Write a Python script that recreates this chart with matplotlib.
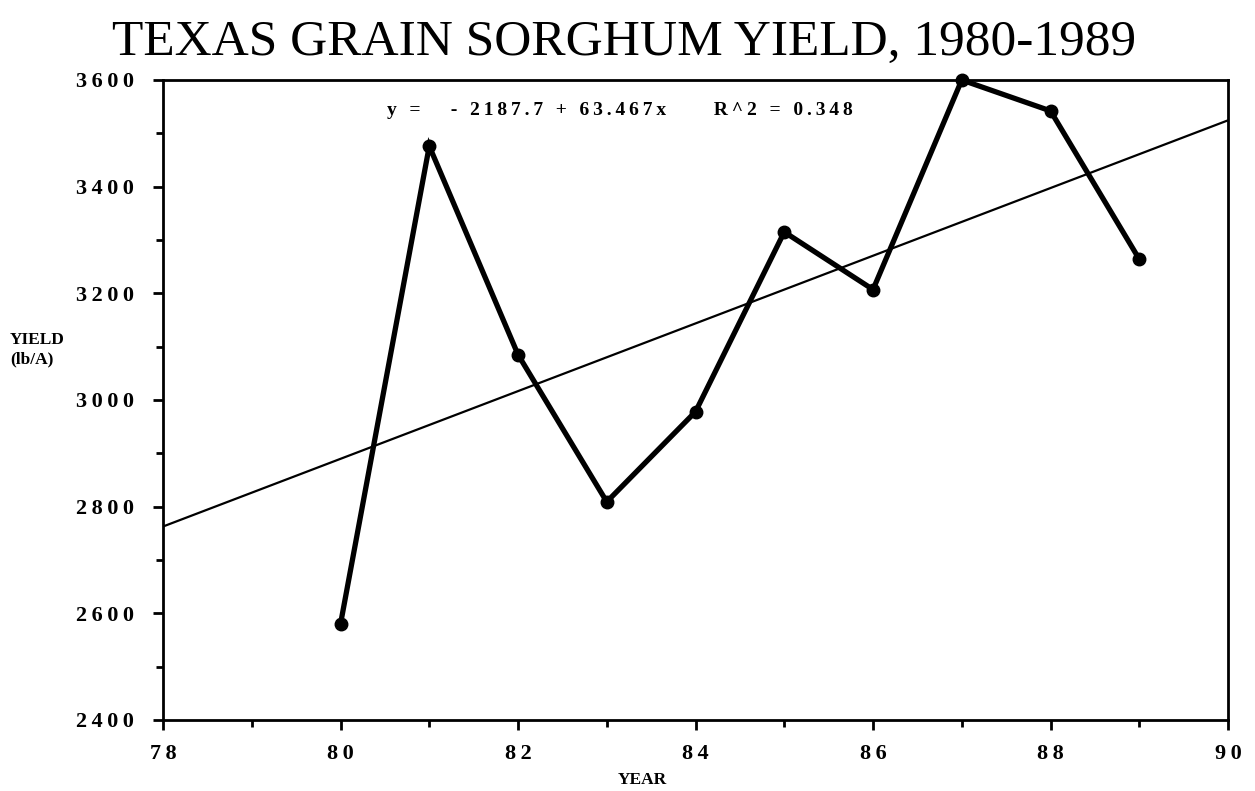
import matplotlib
matplotlib.use("Agg")
import matplotlib.pyplot as plt
from matplotlib.ticker import MultipleLocator, FuncFormatter

# yield data (year 80-89, lb/A)
years = [80, 81, 82, 83, 84, 85, 86, 87, 88, 89]
yields = [2580, 3476, 3085, 2809, 2978, 3315, 3207, 3600, 3542, 3264]

# fitted line as printed on the chart
intercept = -2187.7
slope = 63.467
r2 = 0.348
fit_x = [78, 90]

SERIF = ["Liberation Serif", "DejaVu Serif"]


def loose(s):
    # old plotter fonts are widely letter-spaced
    return "\u2009".join(s)


def spaced(v, pos):
    return loose(f"{v:.0f}")


fig = plt.figure(figsize=(12.55, 7.91), dpi=100)
ax = fig.add_axes([0.1299, 0.0898, 0.8486, 0.8091])

ax.plot(fit_x, [intercept + slope * x for x in fit_x], color="black", lw=1.6)
ax.plot(years, yields, color="black", lw=3.8, marker="o", ms=9,
        solid_joinstyle="miter", clip_on=False, zorder=3)

ax.set_xlim(78, 90)
ax.set_ylim(2400, 3600)
ax.xaxis.set_major_locator(MultipleLocator(2))
ax.xaxis.set_minor_locator(MultipleLocator(1))
ax.yaxis.set_major_locator(MultipleLocator(200))
ax.yaxis.set_minor_locator(MultipleLocator(100))
ax.xaxis.set_major_formatter(FuncFormatter(spaced))
ax.yaxis.set_major_formatter(FuncFormatter(spaced))
ax.tick_params(which="major", direction="out", length=7, width=2)
ax.tick_params(which="minor", direction="out", length=5, width=2)
ax.tick_params(axis="y", pad=14)
ax.tick_params(axis="x", pad=10)
for lab in ax.get_xticklabels() + ax.get_yticklabels():
    lab.set_family(SERIF)
    lab.set_fontweight("bold")
    lab.set_fontsize(16)
for sp in ax.spines.values():
    sp.set_linewidth(2)

eq = f"y =   - {abs(intercept)} + {slope}x     R^2 = {r2}"
ax.text(83.15, 3543, loose(eq), ha="center", va="center", family=SERIF,
        fontweight="bold", fontsize=14)

fig.text(0.497, 0.946, "TEXAS GRAIN SORGHUM YIELD, 1980-1989",
         ha="center", va="center", family=SERIF, fontsize=37)
fig.text(0.008, 0.558, "YIELD\n(lb/A)", ha="left", va="center",
         family=SERIF, fontweight="bold", fontsize=12.5, linespacing=1.3)
fig.text(0.512, 0.014, "YEAR", ha="center", va="center",
         family=SERIF, fontweight="bold", fontsize=12.5)

fig.savefig("out.png", dpi=100)
